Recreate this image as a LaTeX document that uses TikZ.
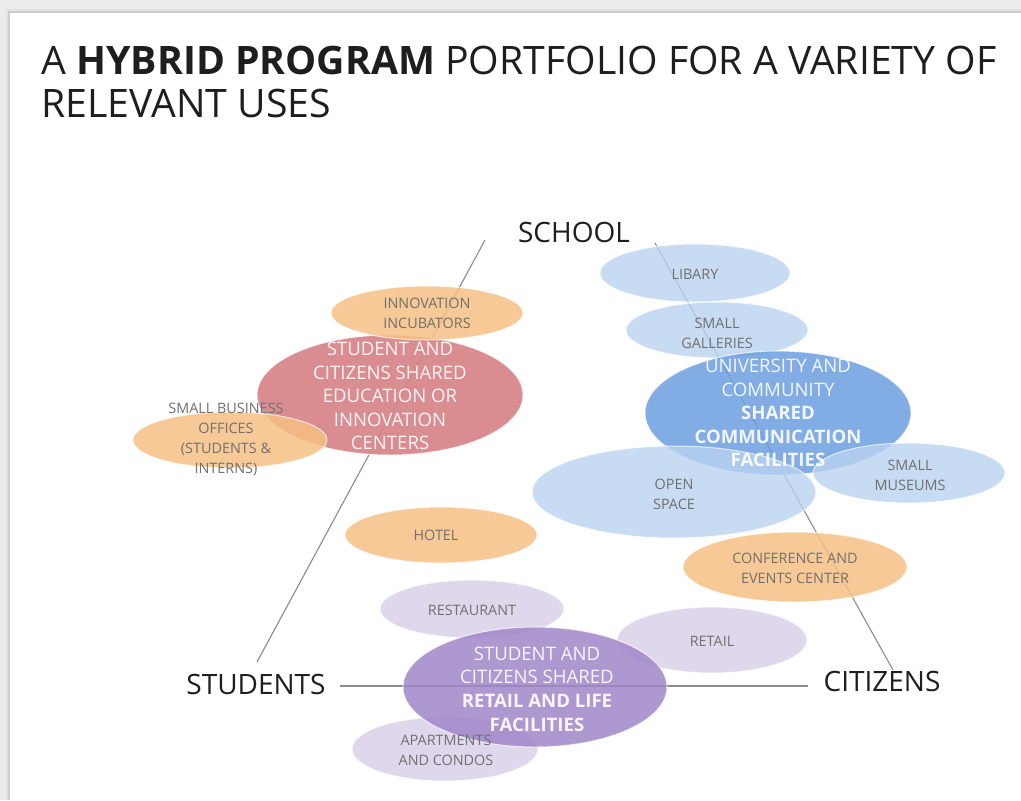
\documentclass[tikz,border=0pt]{standalone}
\usepackage{fontspec}
\setmainfont{Open Sans}
\usetikzlibrary{shapes.geometric}

\definecolor{pageback}{RGB}{236,236,236}
\definecolor{pageshade}{RGB}{205,205,205}
\definecolor{axisgray}{RGB}{140,140,140}
\definecolor{labelgray}{RGB}{112,112,112}
\definecolor{titleink}{RGB}{30,30,30}
\definecolor{orangefill}{RGB}{246,192,132}
\definecolor{redfill}{RGB}{214,132,136}
\definecolor{bluelight}{RGB}{186,210,240}
\definecolor{bluedeep}{RGB}{108,158,224}
\definecolor{lilac}{RGB}{218,210,234}
\definecolor{violet}{RGB}{160,134,200}

\tikzset{
  blob/.style={ellipse, inner sep=0pt, draw=white, draw opacity=0.7, line width=0.5pt},
  orangeblob/.style={blob, fill=orangefill, fill opacity=0.85},
  redblob/.style={blob, fill=redfill, fill opacity=0.92},
  lightblue/.style={blob, fill=bluelight, fill opacity=0.8},
  deepblue/.style={blob, fill=bluedeep, fill opacity=0.85},
  lilacblob/.style={blob, fill=lilac, fill opacity=0.85},
  violetblob/.style={blob, fill=violet, fill opacity=0.85},
  smalltext/.style={text=labelgray, align=center, inner sep=0pt,
    font=\fontsize{7.2}{10}\selectfont},
  bigtext/.style={text=white, text opacity=0.9, align=center, inner sep=0pt,
    font=\fontsize{9.3}{11.8}\selectfont},
  axislabel/.style={text=titleink, inner sep=0pt, anchor=base,
    font=\fontsize{14}{17}\selectfont},
  titleline/.style={text=titleink, inner sep=0pt, anchor=base west,
    font=\fontsize{19.6}{23}\selectfont},
  axis/.style={draw=axisgray, line width=0.55pt},
}

\begin{document}
\begin{tikzpicture}[x=0.5pt, y=-0.5pt]
\useasboundingbox (0,0) rectangle (1021,800);

% page background and slide with a soft shadow
\fill[pageback] (0,0) rectangle (1021,800);
\fill[pageshade!60] (6,9) rectangle (1021,800);
\fill[pageshade] (8,11) rectangle (1021,800);
\fill[white] (10,13) rectangle (1021,800);

% title
\node[titleline] (title1) at (41,74)
  {A \textbf{HYBRID PROGRAM} PORTFOLIO FOR A VARIETY OF};
\node[titleline] (title2) at (41,117) {RELEVANT USES};

% axis labels
\node[axislabel] (school) at (574,242) {SCHOOL};
\node[axislabel] (students) at (256,694) {STUDENTS};
\node[axislabel] (citizens) at (882,691) {CITIZENS};

% axis end points
\coordinate (schoolL) at (485,240);
\coordinate (schoolR) at (655,243);
\coordinate (studentsT) at (257,662);
\coordinate (studentsR) at (340,686);
\coordinate (citizensT) at (893,670);
\coordinate (citizensL) at (808,686);

% axes
\draw[axis] (schoolL) -- (studentsT);
\draw[axis] (schoolR) -- (citizensT);
\draw[axis] (studentsR) -- (citizensL);

% education cluster
\node[redblob, minimum width=133pt, minimum height=60pt] (edu) at (390,395) {};
\node[orangeblob, minimum width=96pt, minimum height=27pt] (incub) at (427,313) {};
\node[orangeblob, minimum width=97pt, minimum height=28pt] (sbo) at (230,440) {};
\node[orangeblob, minimum width=96pt, minimum height=28pt] (hotel) at (441,535) {};
\node[orangeblob, minimum width=112pt, minimum height=35pt] (conf) at (795,567) {};

% communication cluster
\node[lightblue, minimum width=95pt, minimum height=29pt] (lib) at (695,273) {};
\node[lightblue, minimum width=91pt, minimum height=28pt] (gal) at (717,330) {};
\node[deepblue, minimum width=133pt, minimum height=62pt] (comm) at (778,413) {};
\node[lightblue, minimum width=142pt, minimum height=46pt] (open) at (674,492) {};
\node[lightblue, minimum width=96pt, minimum height=30pt] (mus) at (909,473) {};

% retail and life cluster
\node[lilacblob, minimum width=92pt, minimum height=29pt] (rest) at (472,609) {};
\node[lilacblob, minimum width=95pt, minimum height=33pt] (retail) at (712,640) {};
\node[lilacblob, minimum width=93pt, minimum height=32pt] (apt) at (445,749) {};
\node[violetblob, minimum width=132pt, minimum height=60pt] (life) at (535,687) {};

% texts of the large ellipses
\node[bigtext] (edutext) at (390,396)
  {STUDENT AND\\CITIZENS SHARED\\EDUCATION OR\\INNOVATION\\CENTERS};
\node[bigtext] (commtext) at (778,413)
  {UNIVERSITY AND\\COMMUNITY\\\textbf{SHARED}\\\textbf{COMMUNICATION}\\\textbf{FACILITIES}};
\node[bigtext] (lifetext) at (537,689)
  {STUDENT AND\\CITIZENS SHARED\\\textbf{RETAIL AND LIFE}\\\textbf{FACILITIES}};

% texts of the small ellipses
\node[smalltext] (incubtext) at (427,313) {INNOVATION\\INCUBATORS};
\node[smalltext] (sbotext) at (226,439) {SMALL BUSINESS\\OFFICES\\(STUDENTS \&\\INTERNS)};
\node[smalltext] (hoteltext) at (436,535) {HOTEL};
\node[smalltext] (conftext) at (795,568) {CONFERENCE AND\\EVENTS CENTER};
\node[smalltext] (libtext) at (695,274) {LIBARY};
\node[smalltext] (galtext) at (717,333) {SMALL\\GALLERIES};
\node[smalltext] (mustext) at (910,475) {SMALL\\MUSEUMS};
\node[smalltext] (opentext) at (674,494) {OPEN\\SPACE};
\node[smalltext] (resttext) at (472,610) {RESTAURANT};
\node[smalltext] (retailtext) at (712,641) {RETAIL};
\node[smalltext] (apttext) at (446,750) {APARTMENTS\\AND CONDOS};

\end{tikzpicture}
\end{document}
